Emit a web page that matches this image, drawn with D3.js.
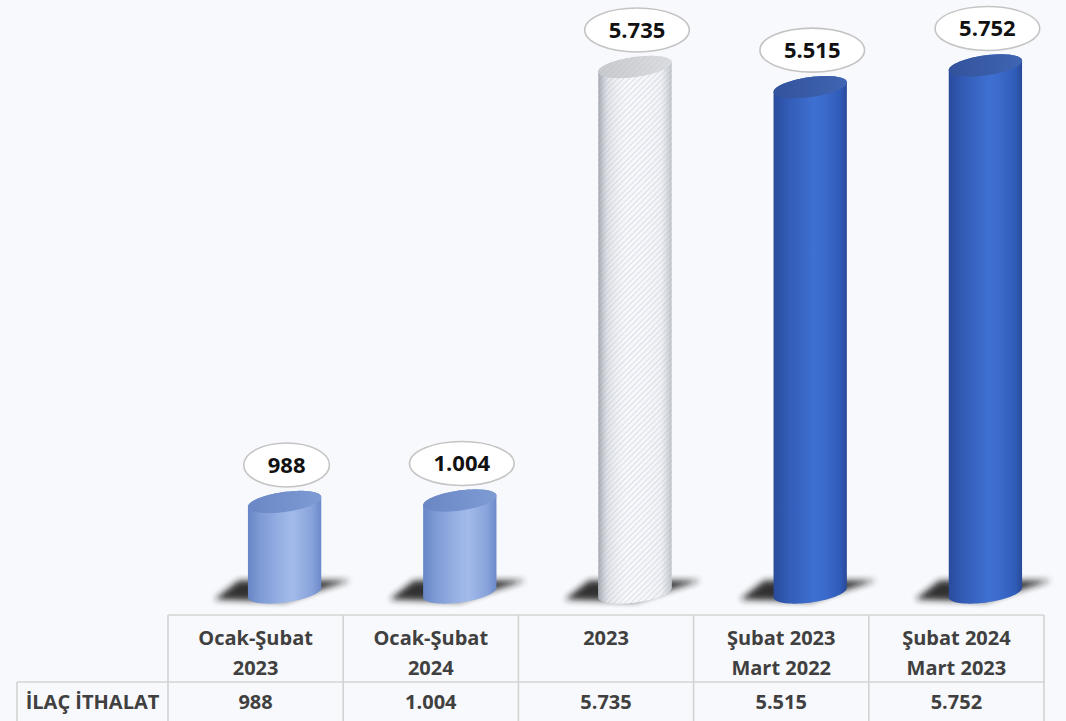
<!DOCTYPE html>
<html><head><meta charset="utf-8">
<script src="https://cdn.jsdelivr.net/npm/d3@7"></script>
<style>
html,body{margin:0;padding:0;background:#f8f9fc;}
svg{display:block;}
text{font-family:"Open Sans","Liberation Sans",sans-serif;font-weight:700;}
</style></head>
<body>
<script>
// ---- data ----
const categories = [["Ocak-Şubat","2023"],["Ocak-Şubat","2024"],["2023"],["Şubat 2023","Mart 2022"],["Şubat 2024","Mart 2023"]];
const values = [988, 1004, 5735, 5515, 5752];
const rowLabel = "İLAÇ İTHALAT";
const barStyles = ["light","light","hatched","dark","dark"];

const W = 1066, H = 721;
const svg = d3.select("body").append("svg").attr("width", W).attr("height", H);
svg.append("rect").attr("width", W).attr("height", H).attr("fill", "#f8f9fc");

const fmt = d3.formatLocale({decimal:",", thousands:".", grouping:[3], currency:["",""]}).format(",d");

const x = d3.scaleBand().domain(d3.range(categories.length)).range([168, 1044]).padding(0);
const y = d3.scaleLinear().domain([0, 6000]).range([592.5, 42.7]);

const defs = svg.append("defs");
function grad(id, stops){
  const g = defs.append("linearGradient").attr("id", id).attr("x1","0").attr("x2","1").attr("y1","0").attr("y2","0");
  stops.forEach(([o,c,a]) => g.append("stop").attr("offset", o).attr("stop-color", c).attr("stop-opacity", a==null?1:a));
}
grad("g-light", [["0%","#6886c6"],["15%","#7c99d4"],["50%","#9cb5e7"],["62%","#a2baea"],["88%","#87a2da"],["100%","#6c89c9"]]);
grad("g-light-top", [["0%","#6a87c5"],["100%","#7e9bd4"]]);
grad("g-dark", [["0%","#2a4b9c"],["18%","#325bb4"],["55%","#3e70d2"],["68%","#3b6bcc"],["90%","#305dba"],["100%","#294a98"]]);
grad("g-dark-top", [["0%","#33529c"],["100%","#4065b2"]]);
grad("g-shade", [["0%","#8a8f98",0.75],["12%","#b0b5bd",0.35],["45%","#ffffff",0],["85%","#c8ccd3",0.15],["100%","#9ca1aa",0.6]]);
grad("g-hatch-top", [["0%","#b9bbbf"],["100%","#d2d4d7"]]);

const pat = defs.append("pattern").attr("id","hatch").attr("patternUnits","userSpaceOnUse")
  .attr("width",4).attr("height",4).attr("patternTransform","rotate(45)");
pat.append("rect").attr("width",4).attr("height",4).attr("fill","#f7f8fb");
pat.append("line").attr("x1",0).attr("y1",0).attr("x2",0).attr("y2",4).attr("stroke","#c9d0dc").attr("stroke-width",1.3);

const blur = defs.append("filter").attr("id","blur").attr("x","-50%").attr("y","-200%").attr("width","200%").attr("height","500%");
blur.append("feGaussianBlur").attr("stdDeviation", 3);

// ---- cylinder geometry ----
const RX = 37, RY = 10, PHI = -8 * Math.PI / 180, OFF = 29;
function ellPts(cx, cy){
  const pts = [];
  for (let i = 0; i < 120; i++){
    const t = i / 120 * 2 * Math.PI;
    pts.push([cx + RX*Math.cos(t)*Math.cos(PHI) - RY*Math.sin(t)*Math.sin(PHI),
              cy + RX*Math.cos(t)*Math.sin(PHI) + RY*Math.sin(t)*Math.cos(PHI)]);
  }
  return pts;
}
function bodyPath(cx, yTop, yBot){
  const b = ellPts(cx, yBot), t = ellPts(cx, yTop);
  const iMax = d3.maxIndex(b, p => p[0]), iMin = d3.minIndex(b, p => p[0]);
  const pts = [];
  for (let i = iMax; ; i = (i + 1) % 120){ pts.push(b[i]); if (i === iMin) break; }
  for (let i = iMin; ; i = (i + 1) % 120){ pts.push(t[i]); if (i === iMax) break; }
  return d3.line()(pts) + "Z";
}
function ellPath(cx, cy){ return d3.line()(ellPts(cx, cy)) + "Z"; }

const bars = svg.append("g");
values.forEach((v, i) => {
  const cx = x(i) + x.bandwidth()/2 + OFF;
  const yb = y(0), yt = y(v);
  const g = bars.append("g");
  // shadow
  g.append("path")
    .attr("d", `M${cx-70},${yb+7} L${cx-46},${yb-12} L${cx+66},${yb-12} L${cx+30},${yb-1} L${cx},${yb+9} Z`)
    .attr("fill", "#1c1c1c").attr("opacity", 0.9).attr("filter", "url(#blur)");
  const st = barStyles[i];
  if (st === "hatched"){
    g.append("path").attr("d", bodyPath(cx, yt, yb)).attr("fill", "url(#hatch)");
    g.append("path").attr("d", bodyPath(cx, yt, yb)).attr("fill", "url(#g-shade)");
    g.append("path").attr("d", ellPath(cx, yt)).attr("fill", "url(#g-hatch-top)");
    g.append("path").attr("d", ellPath(cx, yt)).attr("fill", "url(#hatch)").attr("opacity", 0.25);
  } else {
    g.append("path").attr("d", bodyPath(cx, yt, yb)).attr("fill", `url(#g-${st})`);
    g.append("path").attr("d", ellPath(cx, yt)).attr("fill", `url(#g-${st}-top)`);
  }
  // value label bubble
  const lbl = g.append("g").attr("transform", `translate(${cx+2},${yt-37})`);
  const el = lbl.append("ellipse").attr("fill", "#ffffff").attr("stroke", "#c4c4c4").attr("stroke-width", 1.6).attr("ry", 22);
  const tx = lbl.append("text").attr("text-anchor","middle").attr("dy","0.36em")
    .attr("font-size", 22).attr("fill", "#111").text(fmt(v));
  const tw = tx.node().getComputedTextLength();
  el.attr("rx", tw/2 + 24);
});

// ---- data table ----
const tbl = svg.append("g");
const lc = "#d3d3d3";
const tTop = 615, tMid = 682, tBot = 722, tLeft = 17;
tbl.append("line").attr("x1", 168).attr("x2", 1044).attr("y1", tTop).attr("y2", tTop).attr("stroke", lc).attr("stroke-width", 1.6);
tbl.append("line").attr("x1", tLeft).attr("x2", 1044).attr("y1", tMid).attr("y2", tMid).attr("stroke", lc).attr("stroke-width", 1.6);
tbl.append("line").attr("x1", tLeft).attr("x2", tLeft).attr("y1", tMid).attr("y2", tBot).attr("stroke", lc).attr("stroke-width", 1.6);
const edges = x.domain().map(i => x(i)).concat([x.range()[1]]);
edges.forEach(ex => tbl.append("line").attr("x1", ex).attr("x2", ex).attr("y1", tTop).attr("y2", tBot).attr("stroke", lc).attr("stroke-width", 1.6));

categories.forEach((lines, i) => {
  const cx = x(i) + x.bandwidth()/2;
  lines.forEach((s, k) => {
    tbl.append("text").attr("x", cx).attr("y", 645 + k*30).attr("text-anchor","middle")
      .attr("font-size", 20).attr("fill", "#404040").text(s);
  });
  tbl.append("text").attr("x", cx).attr("y", 709).attr("text-anchor","middle")
    .attr("font-size", 20).attr("fill", "#404040").text(fmt(values[i]));
});
tbl.append("text").attr("x", (tLeft + 168)/2).attr("y", 709).attr("text-anchor","middle")
  .attr("font-size", 20).attr("fill", "#404040").text(rowLabel);
</script>
</body></html>
